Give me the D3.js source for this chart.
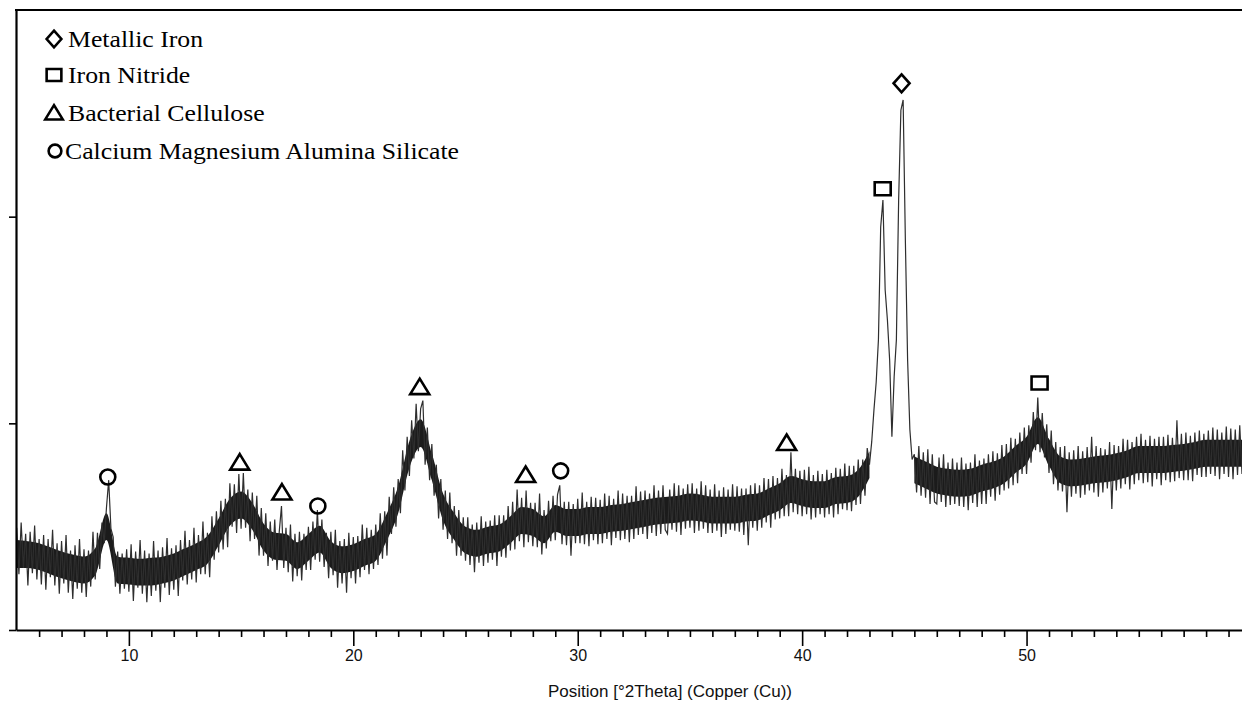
<!DOCTYPE html>
<html>
<head>
<meta charset="utf-8">
<script src="https://cdn.jsdelivr.net/npm/d3@7/dist/d3.min.js"></script>
<style>
  html, body { margin: 0; padding: 0; background: #fff; }
  svg { display: block; }
</style>
</head>
<body>
<svg id="chart" width="1242" height="702"></svg>
<script>
// ---- data ----
const angleStart = 5.0;   // °2Theta of first sample
const angleStep = 0.1;    // °2Theta per sample
const counts = [
  99,54,104,60,93,43,95,55,101,49,
  88,44,92,39,88,51,97,43,84,35,
  86,45,92,36,77,30,82,40,88,36,
  78,32,77,42,95,49,94,59,104,84,
  118,145,98,90,42,76,35,74,40,78,
  37,83,28,76,41,87,35,77,27,74,
  33,86,38,77,27,80,41,89,34,79,
  39,82,33,87,48,96,44,87,49,99,
  46,92,54,105,54,94,51,110,68,115,
  75,125,78,127,80,142,100,141,94,151,
  98,152,99,136,86,133,88,130,72,118,
  72,113,62,105,67,107,58,95,120,60,
  99,56,102,47,93,52,95,48,93,58,
  100,58,105,68,116,66,107,61,94,50,
  95,53,97,41,86,45,88,36,94,50,
  90,45,91,51,102,58,99,54,97,59,
  102,63,113,69,115,72,129,93,138,100,
  146,113,174,135,187,149,203,166,219,173,
  214,222,160,196,145,180,130,160,108,146,
  97,135,88,133,84,120,72,116,72,109,
  67,109,63,102,56,104,65,110,62,105,
  65,106,68,111,62,111,71,111,70,120,
  77,124,78,136,86,128,80,135,85,123,
  81,123,80,132,73,116,79,125,86,130,
  87,131,140,83,124,82,124,72,122,84,
  127,84,133,83,124,81,129,87,128,83,
  126,84,132,88,130,82,127,89,135,87,
  132,88,130,85,130,88,139,92,134,93,
  135,88,132,94,140,91,135,93,140,97,
  93,136,97,142,95,140,92,137,98,141,
  99,142,94,137,96,144,98,140,94,136,
  94,141,96,135,90,138,93,136,97,141,
  96,139,95,137,92,137,82,140,99,142,
  96,140,99,147,104,146,99,149,107,147,
  108,156,110,150,110,172,114,156,112,154,
  110,155,112,158,107,150,109,154,112,151,
  109,155,112,152,109,157,112,156,117,161,
  116,159,115,159,121,165,122,165,130,176,
  160,182,213,240,281,390,416,329,300,261,
  187,245,281,416,503,513,377,261,194,165,
  170,133,178,130,172,128,175,122,170,124,
  122,167,124,170,119,162,121,166,122,162,
  120,167,119,161,116,162,123,170,119,164,
  122,166,122,170,129,173,125,171,131,179,
  135,180,137,186,140,185,142,191,151,196,
  151,198,162,211,174,225,172,210,167,199,
  152,193,141,182,135,177,134,178,114,172,
  129,174,132,178,128,173,131,177,135,187,
  133,178,129,176,133,175,137,182,117,179,
  135,178,137,185,141,184,136,182,141,187,
  145,190,142,184,143,188,139,185,146,187,
  140,187,145,189,143,186,144,203,147,190,
  145,191,145,188,144,191,150,193,148,190,
  148,193,151,196,149,194,146,191,151,197,
  148,195,146,194,150,198,151
];

// dense noise band (envelope of the background), sampled every 0.5°; null = no band (sharp peaks)
const bandStart = 5.0;
const bandStep = 0.5;
const bandHigh = [
  87,86,84,80,76,73,71,79,113,71,
  70,69,70,71,74,79,84,91,108,127,
  134,123,103,94,93,85,93,101,86,81,
  83,88,93,113,139,183,204,171,132,113,
  100,97,100,102,110,119,117,110,121,117,
  117,119,119,121,122,124,126,128,129,130,
  132,131,129,129,129,131,132,137,142,149,
  146,144,144,148,149,155,173,null,null,null,
  168,163,158,156,155,156,160,163,168,178,
  187,206,185,168,165,166,168,169,171,174,
  178,178,178,179,180,182,184,184,184,184,184
];
const bandLow = [
  60,60,58,54,50,47,45,53,87,45,
  44,43,43,45,48,53,58,64,82,101,
  108,97,77,68,67,59,67,75,60,55,
  57,62,67,87,113,157,177,145,106,87,
  74,71,74,76,84,93,91,84,95,91,
  91,93,93,95,96,98,100,102,103,104,
  106,105,103,103,103,105,106,111,116,123,
  120,118,118,122,123,129,147,null,null,null,
  142,137,132,130,129,130,134,137,142,152,
  161,180,159,142,139,140,142,143,145,148,
  152,152,152,153,154,156,158,158,158,158,158
];

const xMajorTicks = [10, 20, 30, 40, 50];
const xMinorTicks = [6,7,8,9,11,12,13,14,15,16,17,18,19,21,22,23,24,25,26,27,28,29,
                     31,32,33,34,35,36,37,38,39,41,42,43,44,45,46,47,48,49,51,52,53,54,55,56,57,58,59];
const yTicks = [0, 200, 400];
const xTitle = "Position [°2Theta] (Copper (Cu))";

const peakAngles  = [9.06, 14.94, 16.82, 18.42, 22.96, 27.68, 29.24, 39.31, 43.59, 44.43, 50.58];
const peakCounts  = [148, 162, 133, 120, 235, 150, 154, 181, 427, 529, 239];
const peakPhases  = ["circle","triangle","triangle","circle","triangle","triangle","circle","triangle","square","diamond","square"];

const legendPhases = ["diamond", "square", "triangle", "circle"];
const legendLabels = ["Metallic Iron", "Iron Nitride", "Bacterial Cellulose", "Calcium Magnesium Alumina Silicate"];

// ---- chart ----
const svg = d3.select("#chart");
const x = d3.scaleLinear().domain([4.97, 59.6]).range([16, 1242]);
const y = d3.scaleLinear().domain([0, 600]).range([630, 10]);

svg.append("defs").append("clipPath").attr("id", "plotclip")
  .append("rect").attr("x", 16).attr("y", 10).attr("width", 1226).attr("height", 620);

const plot = svg.append("g").attr("clip-path", "url(#plotclip)");

const band = bandHigh.map((h, i) => ({a: bandStart + i * bandStep, hi: h, lo: bandLow[i]}));
plot.append("path")
  .datum(band)
  .attr("fill", "#1b1b1b")
  .attr("d", d3.area()
    .defined(d => d.hi != null && d.lo != null)
    .curve(d3.curveMonotoneX)
    .x(d => x(d.a)).y0(d => y(d.lo)).y1(d => y(d.hi)));

const pts = counts.map((c, i) => [angleStart + i * angleStep, c]);
plot.append("path")
  .datum(pts)
  .attr("fill", "none")
  .attr("stroke", "#2e2e2e")
  .attr("stroke-width", 1.2)
  .attr("d", d3.line().x(d => x(d[0])).y(d => y(d[1])));

// axes
const xAxisMajor = d3.axisBottom(x).tickValues(xMajorTicks).tickSize(16).tickSizeOuter(0)
  .tickFormat(d3.format("d"));
const gx = svg.append("g").attr("transform", `translate(0,${y(0)})`).call(xAxisMajor);
gx.select(".domain").attr("stroke", "#000").attr("stroke-width", 2.2);
gx.selectAll(".tick line").attr("stroke", "#000").attr("stroke-width", 1.6);
gx.selectAll(".tick text").attr("font-family", "Liberation Sans, Arial, sans-serif")
  .attr("font-size", 16).attr("fill", "#111").attr("dy", "0.71em").attr("y", 20);

const xAxisMinor = d3.axisBottom(x).tickValues(xMinorTicks).tickSize(7).tickSizeOuter(0).tickFormat("");
const gxm = svg.append("g").attr("transform", `translate(0,${y(0)})`).call(xAxisMinor);
gxm.select(".domain").remove();
gxm.selectAll(".tick line").attr("stroke", "#000").attr("stroke-width", 1.6);

const yAxis = d3.axisLeft(y).tickValues(yTicks).tickSize(7).tickSizeOuter(0).tickFormat("");
const gy = svg.append("g").attr("transform", `translate(${x.range()[0]},0)`).call(yAxis);
gy.select(".domain").attr("stroke", "#000").attr("stroke-width", 2.2);
gy.selectAll(".tick line").attr("stroke", "#000").attr("stroke-width", 1.6);

// top frame line
svg.append("line")
  .attr("x1", x.range()[0] - 1).attr("x2", x.range()[1])
  .attr("y1", y.range()[1]).attr("y2", y.range()[1])
  .attr("stroke", "#000").attr("stroke-width", 2.2);

// x title
svg.append("text")
  .attr("x", 670).attr("y", 697)
  .attr("text-anchor", "middle")
  .attr("font-family", "Liberation Sans, Arial, sans-serif")
  .attr("font-size", 17).attr("fill", "#111")
  .text(xTitle);

// marker shapes
function markerD(type, s) {
  switch (type) {
    case "diamond": return `M0,${-9*s} L${8*s},0 L0,${9*s} L${-8*s},0 Z`;
    case "square":  return `M${-8*s},${-6.5*s} H${8*s} V${6.5*s} H${-8*s} Z`;
    case "triangle":return `M0,${-8.5*s} L${9.5*s},${7*s} H${-9.5*s} Z`;
    case "circle": {
      const r = 7.5 * s;
      return `M${r},0 A${r},${r} 0 1,1 ${-r},0 A${r},${r} 0 1,1 ${r},0 Z`;
    }
  }
}

svg.append("g").selectAll("path")
  .data(peakAngles.map((a, i) => ({a, c: peakCounts[i], t: peakPhases[i]})))
  .join("path")
  .attr("transform", d => `translate(${x(d.a)},${y(d.c)})`)
  .attr("d", d => markerD(d.t, 1))
  .attr("fill", "none")
  .attr("stroke", "#000")
  .attr("stroke-width", 2.6);

// legend
const legendMarkY = [39, 75, 113, 151];
const lg = svg.append("g");
legendPhases.forEach((t, i) => {
  lg.append("path")
    .attr("transform", `translate(${t === "circle" ? 55 : 54},${legendMarkY[i]})`)
    .attr("d", markerD(t, t === "circle" ? 0.85 : 0.92))
    .attr("fill", "none").attr("stroke", "#000").attr("stroke-width", 2.6);
  lg.append("text")
    .attr("transform", `translate(${t === "circle" ? 65 : 68},${legendMarkY[i] + 8}) scale(1.12,1)`)
    .attr("font-family", "Liberation Serif, Times New Roman, serif")
    .attr("font-size", 23).attr("fill", "#000")
    .text(legendLabels[i]);
});
</script>
</body>
</html>
